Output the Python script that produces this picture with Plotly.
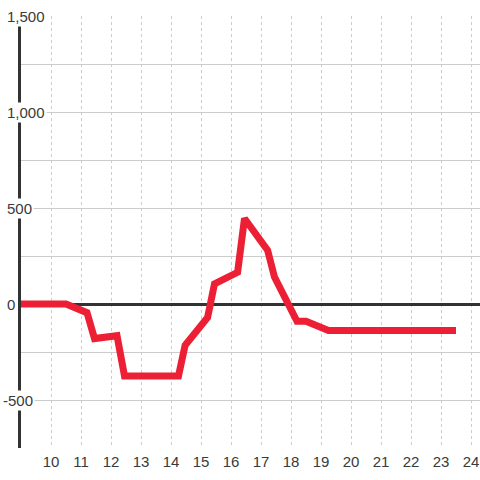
import plotly.graph_objects as go

# Data
hours = [9, 10.5, 11.2, 11.45, 12.2, 12.45, 14.25, 14.47, 15.22, 15.45,
         16.22, 16.45, 17.22, 17.45, 18.2, 18.5, 19.25, 23.5]
values = [0, 0, -45, -180, -165, -375, -375, -215, -70, 105,
          165, 445, 280, 140, -90, -90, -138, -138]

x_tick_vals = list(range(10, 25))
x_tick_text = [str(v) for v in x_tick_vals]
y_tick_vals = [-500, 0, 500, 1000, 1500]
y_tick_text = ["-500", "0", "500", "1,000", "1,500"]

LABEL_FONT = dict(family="Liberation Sans, Arial, sans-serif", size=15, color="#3a3a3a")

fig = go.Figure()
fig.add_trace(go.Scatter(
    x=hours, y=values, mode="lines",
    line=dict(color="#ec1f35", width=7),
    hoverinfo="skip", showlegend=False,
))

for v, t in zip(y_tick_vals, y_tick_text):
    fig.add_annotation(
        x=0, xref="paper", y=v, yref="y", text=t,
        showarrow=False, xanchor="left", yanchor="middle",
        xshift=-20 if t.startswith("-") else -16,
        bgcolor="white", borderpad=1, font=LABEL_FONT,
    )

fig.update_layout(
    width=480, height=480,
    margin=dict(l=21, r=0, t=16, b=32),
    paper_bgcolor="white", plot_bgcolor="white",
    showlegend=False,
    xaxis=dict(
        range=[9, 24.3], tickvals=x_tick_vals, ticktext=x_tick_text,
        showgrid=True, gridcolor="#cccccc", gridwidth=1, griddash="dot",
        zeroline=False, showline=False, ticks="",
        ticklabelstandoff=3,
        tickfont=LABEL_FONT, fixedrange=True,
    ),
    yaxis=dict(
        range=[-750, 1500], tick0=-750, dtick=250,
        showticklabels=False, ticks="",
        showgrid=True, gridcolor="#cccccc", gridwidth=1,
        zeroline=True, zerolinecolor="#333333", zerolinewidth=3,
        showline=True, linecolor="#333333", linewidth=3,
        layer="below traces", fixedrange=True,
    ),
)

fig.write_html(
    "out.html",
    config={"displayModeBar": False, "staticPlot": True},
    post_script="document.body.style.margin='0';document.body.style.overflow='hidden';",
)
